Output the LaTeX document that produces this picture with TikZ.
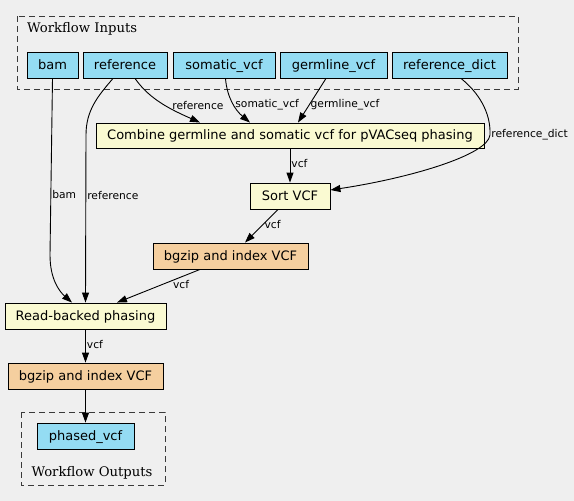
\documentclass[tikz,border=0pt]{standalone}
\usepackage{fontspec}
\newfontfamily\nodefont{DejaVu Sans}
\newfontfamily\clusterfont{DejaVu Serif}
\usetikzlibrary{arrows.meta}
\definecolor{bgcol}{HTML}{EFEFEF}
\definecolor{inputcol}{HTML}{94DCF3}
\definecolor{stepcol}{HTML}{FAFAD2}
\definecolor{zipcol}{HTML}{F5CF9F}
\definecolor{linecol}{HTML}{3A3A3A}

\begin{document}
\begin{tikzpicture}[x=1pt,y=-1pt,
  box/.style={draw=black,line width=0.9pt,inner sep=0pt,minimum height=26pt,
    text height=10.8pt,text depth=2.8pt,font=\nodefont\fontsize{13}{15}\selectfont},
  inbox/.style={box,fill=inputcol},
  stepbox/.style={box,fill=stepcol},
  zipbox/.style={box,fill=zipcol},
  cluster/.style={draw=linecol,line width=0.9pt,dash pattern=on 6pt off 4pt},
  clabel/.style={inner sep=0pt,font=\clusterfont\fontsize{13.2}{15}\selectfont},
  edge/.style={draw=black,line width=0.9pt,-{Triangle[length=10pt,width=7pt]}},
  lbl/.style={inner sep=1pt,font=\nodefont\fontsize{10.7}{12}\selectfont}]
			\fill[bgcol] (0,0) rectangle (574,501);
			\useasboundingbox (0,0) rectangle (574,501);
			% clusters
			\draw[cluster] (17,16) rectangle (518,89);
			\node[clabel,anchor=base west] (inlabel) at (27,32) {Workflow Inputs};
			\draw[cluster] (21,412) rectangle (165,485);
			\node[clabel,anchor=base] (outlabel) at (92,476) {Workflow Outputs};
			% inputs
			\node[inbox,minimum width=51pt] (bam) at (52.5,65) {bam};
			\node[inbox,minimum width=84pt] (ref) at (125,65) {reference};
			\node[inbox,minimum width=102pt] (somatic) at (224,65) {somatic\_vcf};
			\node[inbox,minimum width=107pt] (germline) at (333.5,65) {germline\_vcf};
			\node[inbox,minimum width=115pt] (refdict) at (449.5,65) {reference\_dict};
			% steps
			\node[stepbox,minimum width=388pt,minimum height=25pt] (combine) at (290,135.5) {Combine germline and somatic vcf for pVACseq phasing};
			\node[stepbox,minimum width=80pt] (sort) at (290,196) {Sort VCF};
			\node[zipbox,minimum width=155pt] (zipa) at (230.5,256) {bgzip and index VCF};
			\node[stepbox,minimum width=161pt] (rb) at (85.5,316) {Read-backed phasing};
			\node[zipbox,minimum width=155pt] (zipb) at (85.5,376) {bgzip and index VCF};
			\node[inbox,minimum width=97pt] (out) at (85.5,436) {phased\_vcf};
			% connectors
			\draw[edge] (bam.south) -- node[lbl,right,pos=0.66] {bam} (50,255) .. controls (50,280) and (60,292) .. ([xshift=-13.5pt]rb.north);
			\draw[edge] ([xshift=-12pt]ref.south) .. controls (98,96) and (86,110) .. (86,135) -- node[lbl,right,pos=0.36] {reference} (rb.north);
			\draw[edge] ([xshift=10pt]ref.south) .. controls (150,100) and (172,110) .. node[lbl,right=5pt,pos=0.55] {reference} ([xshift=-90pt]combine.north);
			\draw[edge] ([xshift=1.5pt]somatic.south) .. controls (227,97) and (235,110) .. node[lbl,right,pos=0.55] {somatic\_vcf} ([xshift=-40pt]combine.north);
			\draw[edge] ([xshift=-7.5pt]germline.south) -- node[lbl,right,pos=0.6] {germline\_vcf} ([xshift=8pt]combine.north);
			\draw[edge] ([xshift=11.5pt]refdict.south) .. controls (478,92) and (491,112) .. (490,135) node[lbl,right] {reference\_dict} .. controls (488,155) and (410,178) .. ([yshift=6pt]sort.east);
			\draw[edge] (combine.south) -- node[lbl,right,pos=0.45] {vcf} (sort.north);
			\draw[edge] ([xshift=-12pt]sort.south) -- node[lbl,right,pos=0.45] {vcf} ([xshift=14.5pt]zipa.north);
			\draw[edge] ([xshift=-30.5pt]zipa.south) -- node[lbl,right=9pt,pos=0.45] {vcf} ([xshift=31.5pt]rb.north);
			\draw[edge] (rb.south) -- node[lbl,right,pos=0.45] {vcf} (zipb.north);
			\draw[edge] (zipb.south) -- (out.north);
		\end{tikzpicture}
\end{document}
